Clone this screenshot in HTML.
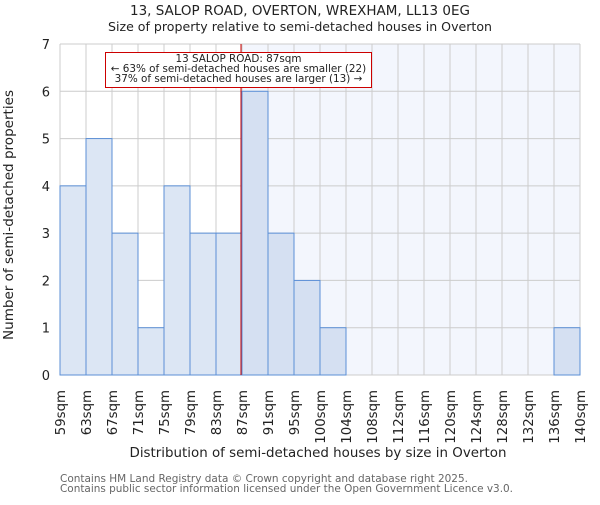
<!DOCTYPE html>
<html><head><meta charset="utf-8"><style>
body{margin:0;background:#fff;}
svg text{font-family:"DejaVu Sans","Liberation Sans",sans-serif;}
</style></head><body>
<svg id="chart" width="600" height="500" xmlns="http://www.w3.org/2000/svg">
<text x="300" y="15" text-anchor="middle" font-size="13" textLength="340" lengthAdjust="spacingAndGlyphs" fill="#222">13, SALOP ROAD, OVERTON, WREXHAM, LL13 0EG</text>
<text x="300" y="31" text-anchor="middle" font-size="12.5" textLength="384" lengthAdjust="spacingAndGlyphs" fill="#222">Size of property relative to semi-detached houses in Overton</text>
<g id="plot"></g>
<text x="318" y="457" text-anchor="middle" font-size="13.5" textLength="377" lengthAdjust="spacingAndGlyphs" fill="#222">Distribution of semi-detached houses by size in Overton</text>
<text transform="translate(13,215) rotate(-90)" text-anchor="middle" font-size="13" textLength="250" lengthAdjust="spacingAndGlyphs" fill="#222">Number of semi-detached properties</text>
<text x="60" y="482" font-size="10.5" textLength="408" lengthAdjust="spacingAndGlyphs" fill="#666">Contains HM Land Registry data © Crown copyright and database right 2025.</text>
<text x="60" y="492" font-size="10.5" textLength="453" lengthAdjust="spacingAndGlyphs" fill="#666">Contains public sector information licensed under the Open Government Licence v3.0.</text>
</svg>
<script>
const binLabels=["59sqm","63sqm","67sqm","71sqm","75sqm","79sqm","83sqm","87sqm","91sqm","95sqm","100sqm","104sqm","108sqm","112sqm","116sqm","120sqm","124sqm","128sqm","132sqm","136sqm","140sqm"];
const counts=[4,5,3,1,4,3,3,6,3,2,1,0,0,0,0,0,0,0,0,1];
const yTicks=[0,1,2,3,4,5,6,7];
const subjectBin=7;
const NS="http://www.w3.org/2000/svg";
const X0=60,X1=580,Y0=375,Y1=44,YMAX=7;
const bw=(X1-X0)/counts.length;
const xs=i=>X0+i*bw;
const ys=v=>Y0-(Y0-Y1)*v/YMAX;
const g=document.getElementById('plot');
function mk(t,a){const e=document.createElementNS(NS,t);for(const k in a)e.setAttribute(k,a[k]);g.appendChild(e);return e;}
const hx=xs(subjectBin);
let e=mk('rect',{x:hx,y:Y1,width:X1-hx,height:Y0-Y1,fill:'#f3f6fd'});


for(let i=0;i<=counts.length;i++){e=mk('line',{x1:xs(i),x2:xs(i),y1:Y1,y2:Y0,stroke:'#cccccc','stroke-width':1});

}
yTicks.forEach(t=>{e=mk('line',{x1:X0,x2:X1,y1:ys(t),y2:ys(t),stroke:'#cccccc','stroke-width':1});


e=mk('text',{x:X0-10,y:ys(t)+5,'text-anchor':'end','font-size':'13',fill:'#222'});e.textContent=t;

});
counts.forEach((c,i)=>{if(c<=0)return;
e=mk('rect',{x:xs(i),y:ys(c),width:bw,height:Y0-ys(c),fill:i>=subjectBin?'#d5e0f2':'#dce6f4',stroke:'#5b8fd6','stroke-width':1});

});
binLabels.forEach((l,i)=>{const x=xs(i);
e=mk('text',{transform:`translate(${x+5},390) rotate(-90)`,'text-anchor':'end','font-size':'13.3',fill:'#222'});e.textContent=l;

});
e=mk('line',{x1:hx-1,x2:hx-1,y1:Y1,y2:Y0,stroke:'#cc0000','stroke-width':1});


e=mk('rect',{x:105.5,y:52.5,width:266,height:35,fill:'#fff',stroke:'#cc0000','stroke-width':1});


["13 SALOP ROAD: 87sqm","← 63% of semi-detached houses are smaller (22)","37% of semi-detached houses are larger (13) →"].forEach((s,k)=>{
e=mk('text',{x:238.5,y:62+k*10,'text-anchor':'middle','font-size':'10.4',fill:'#222'});e.textContent=s;

});
</script>
</body></html>
